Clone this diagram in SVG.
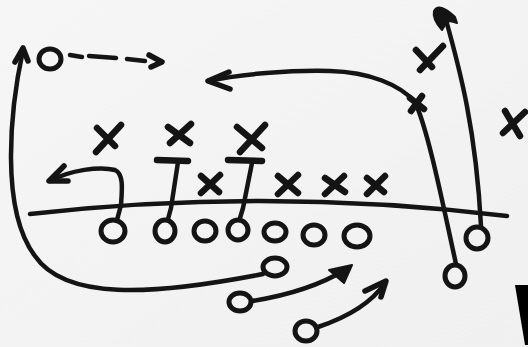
<svg xmlns="http://www.w3.org/2000/svg" width="528" height="347" viewBox="0 0 528 347">
<defs>
<linearGradient id="bg" x1="0" y1="0" x2="1" y2="1">
<stop offset="0" stop-color="#f6f6f6"/>
<stop offset="1" stop-color="#f0f0f0"/>
</linearGradient>
</defs>
<style>
.ln{fill:none;stroke:#141414;stroke-width:4.5;stroke-linecap:round;stroke-linejoin:round}
.hd{fill:none;stroke:#141414;stroke-width:5.5;stroke-linecap:round;stroke-linejoin:round}
.fh{fill:#141414;stroke:#141414;stroke-width:2;stroke-linejoin:round}
.o{fill:none;stroke:#141414;stroke-width:5}
.x{fill:none;stroke:#141414;stroke-width:6.5;stroke-linecap:round}
.t{fill:none;stroke:#141414;stroke-width:6.5;stroke-linecap:round}
</style>
<rect width="528" height="347" fill="url(#bg)"/>

<g id="connectors">
  <!-- line of scrimmage -->
  <path class="ln" d="M 30,214 Q 268,187 507,216"/>
  <!-- top-left dashed route -->
  <path class="ln" d="M 70,55 L 82,57 M 89,56 L 116,58 M 127,59 L 145,61"/>
  <path class="hd" d="M 149,55 L 162,62 L 151,67"/>
  <!-- big left route -->
  <path class="ln" d="M 23,50 C 10,110 0,210 35,256 C 65,300 150,296 263,274"/>
  <path class="hd" d="M 15,62 L 23,48 L 28,61"/>
  <!-- hook route -->
  <path class="ln" d="M 50,181 C 70,170 100,166 115,170 C 124,174 122,190 121,205 L 117,220"/>
  <path class="hd" d="M 64,166 L 49,181 L 68,181"/>
  <!-- T blocks -->
  <path class="t" d="M 157,160 L 188,161"/>
  <path class="ln" d="M 178,162 L 171,208 L 168,219"/>
  <path class="t" d="M 228,160 L 262,161"/>
  <path class="ln" d="M 252,163 L 243,208 L 240,218"/>
  <!-- top-middle route -->
  <path class="ln" d="M 208,81 C 240,74 290,70 330,71 C 370,72 400,85 415,102 C 428,130 442,200 456,264"/>
  <path class="hd" d="M 229,72 L 208,81 L 230,89"/>
  <!-- top-right route -->
  <path class="ln" d="M 446,20 C 460,70 476,130 481,226"/>
  <path class="fh" d="M 434,11 Q 439,2 455,17 L 457,23 Q 450,20 447,22 L 442,30 Q 432,19 434,11 Z"/>
  <!-- bottom arrows -->
  <path class="ln" d="M 252,301 C 290,295 320,285 345,270"/>
  <path class="fh" d="M 352,265 L 329,270 L 344,283 Z"/>
  <path class="ln" d="M 318,327 C 345,318 370,305 385,283"/>
  <path class="hd" d="M 365,291 L 386,281 L 381,297"/>
</g>

<g id="o-top-left"><ellipse class="o" cx="50" cy="59" rx="11" ry="10"/></g>
<g id="o-1"><ellipse class="o" cx="113" cy="231" rx="12" ry="11"/></g>
<g id="o-2"><ellipse class="o" cx="165" cy="231" rx="10" ry="11"/></g>
<g id="o-3"><ellipse class="o" cx="205" cy="231" rx="11" ry="10"/></g>
<g id="o-4"><ellipse class="o" cx="238" cy="230" rx="10" ry="10"/></g>
<g id="o-5"><ellipse class="o" cx="275" cy="232" rx="11" ry="9"/></g>
<g id="o-6"><ellipse class="o" cx="314" cy="235" rx="11" ry="10"/></g>
<g id="o-7"><ellipse class="o" cx="357" cy="236" rx="13" ry="11"/></g>
<g id="o-back-1"><ellipse class="o" cx="275" cy="267" rx="12" ry="9"/></g>
<g id="o-back-2"><ellipse class="o" cx="240" cy="302" rx="11" ry="9"/></g>
<g id="o-back-3"><ellipse class="o" cx="306" cy="331" rx="11" ry="10"/></g>
<g id="o-right-1"><ellipse class="o" cx="455" cy="276" rx="10" ry="11"/></g>
<g id="o-right-2"><ellipse class="o" cx="477" cy="238" rx="11" ry="11"/></g>

<g id="x-1"><path class="x" d="M 121,125 L 96,152 M 97,128 L 115,146"/></g>
<g id="x-2"><path class="x" d="M 191,124 L 170,143 M 168,127 L 190,143"/></g>
<g id="x-3"><path class="x" d="M 265,125 L 240,152 M 237,127 L 262,148"/></g>
<g id="x-4"><path class="x" d="M 220,175 L 201,193 M 201,176 L 219,192"/></g>
<g id="x-5"><path class="x" d="M 298,175 L 278,194 M 278,176 L 298,193"/></g>
<g id="x-6"><path class="x" d="M 344,176 L 325,194 M 325,178 L 345,192"/></g>
<g id="x-7"><path class="x" d="M 385,176 L 367,194 M 367,178 L 384,192"/></g>
<g id="x-route"><path class="x" d="M 422,96 L 411,111 M 410,98 L 424,109"/></g>
<g id="x-top-right"><path class="x" d="M 443,46 L 420,70 M 416,50 L 432,67"/></g>
<g id="x-far-right"><path class="x" d="M 525,112 L 503,133 M 505,111 L 520,136"/></g>

<polygon points="515,285 528,285 528,345 525,345" fill="#000"/>
</svg>
